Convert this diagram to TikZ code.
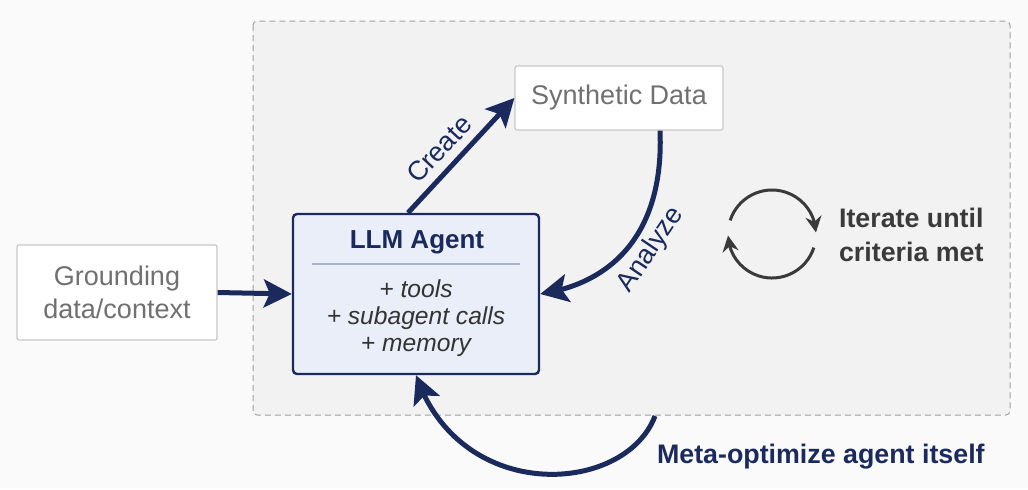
\documentclass[tikz,border=0pt]{standalone}
\usepackage{fontspec}
\setmainfont{Liberation Sans}
\usetikzlibrary{positioning, arrows.meta, bending}
\definecolor{navyline}{RGB}{27, 42, 92}
\definecolor{agentfill}{RGB}{233, 238, 249}
\definecolor{boxgray}{RGB}{200, 200, 200}
\definecolor{textgray}{RGB}{112, 112, 112}
\definecolor{loopgray}{RGB}{58, 58, 58}
\definecolor{outerbg}{RGB}{250, 250, 250}
\definecolor{innerbg}{RGB}{242, 242, 243}
\definecolor{dashgray}{RGB}{160, 160, 160}
\definecolor{sepline}{RGB}{170, 178, 200}

\begin{document}
\begin{tikzpicture}[x=0.5pt, y=-0.5pt,
  databox/.style={draw=boxgray, fill=white, line width=0.6pt, rounded corners=1pt, text=textgray, font=\fontsize{13.5}{16.5}\selectfont, align=center, inner sep=0pt},
  flow/.style={draw=navyline, line width=2.5pt, -{Stealth[length=14pt, width=14pt, inset=3pt]}},
  lbl/.style={text=navyline, font=\fontsize{13.5}{16}\selectfont},
  itemtext/.style={text=black!80, font=\fontsize{12.3}{15}\selectfont\itshape}
]
\fill[outerbg] (0,0) rectangle (1028,489);
\useasboundingbox (0,0) rectangle (1028,489);
\draw[dashgray, fill=innerbg, dash pattern=on 3pt off 2pt, line width=0.5pt, rounded corners=2pt] (253,21) rectangle (1010,415);

% boxes
\node[databox, minimum width=104pt, minimum height=32pt] (synth) at (619,98) {Synthetic Data};
\node[databox, minimum width=100pt, minimum height=47.5pt] (ground) at (117,292.5) {Grounding\\data/context};
\node[draw=navyline, fill=agentfill, line width=1.2pt, rounded corners=2pt, minimum width=123pt, minimum height=80pt] (agent) at (416,294) {};
\node[text=navyline, font=\fontsize{13}{16}\selectfont\bfseries] (agenttitle) at (417,242) {LLM Agent};
\draw[sepline, line width=0.6pt] (312,264) -- (520,264);
\node[itemtext] (tools) at (416,289) {+ tools};
\node[itemtext] (calls) at (416,318) {+ subagent calls};
\node[itemtext] (memory) at (416,347) {+ memory};

% arrows
\draw[flow] (ground.east) -- (agent.west);
\draw[flow] ([xshift=-4pt]agent.north) -- (synth.west);
\node[lbl, rotate=47] (create) at (439,149) {Create};
\draw[flow] ([xshift=20.5pt]synth.south) .. controls (664,225) and (620,282) .. (agent.east);
\node[lbl, rotate=56] (analyze) at (651,250) {Analyze};
\coordinate (metastart) at (655,416);
\draw[flow] (metastart) .. controls (625,495) and (460,505) .. (agent.south);

% iterate icon
\begin{scope}[shift={(772,234)}, x=0.5pt, y=0.5pt, loopgray, line width=1.5pt, -{Stealth[length=8pt, width=8pt]}]
\draw (162:44) arc[start angle=162, end angle=2, radius=44];
\draw (-18:44) arc[start angle=-18, end angle=-178, radius=44];
\end{scope}
\node[anchor=west, align=left, text=loopgray, font=\fontsize{13.4}{17}\selectfont\bfseries] (iterate) at (832,235) {Iterate until\\criteria met};
\node[anchor=west, text=navyline, font=\fontsize{13.4}{16}\selectfont\bfseries] (meta) at (650,457) {Meta-optimize agent itself};
\end{tikzpicture}
\end{document}
